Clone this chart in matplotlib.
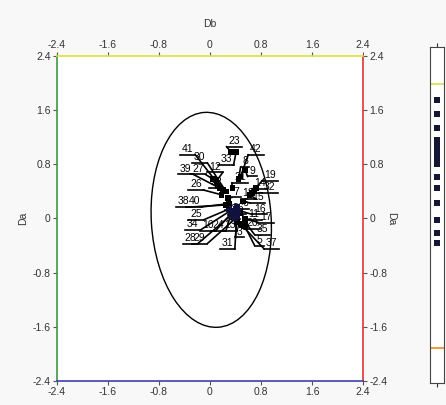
import matplotlib
matplotlib.use("Agg")
import matplotlib.pyplot as plt
from matplotlib.patches import Ellipse
import numpy as np

plt.rcParams['font.family'] = ['Liberation Sans', 'DejaVu Sans']

# ---- data ----
ids = list(range(1, 43))
db = [0.35, 0.30, 0.42, 0.40, 0.55, 0.42, 0.28, 0.45, 0.55, 0.32,
      0.48, 0.10, 0.38, 0.70, 0.52, 0.45, 0.55, 0.62, 0.72, 0.48,
      0.35, 0.12, 0.33, 0.34, 0.30, 0.18, 0.05, 0.36, 0.40, 0.25,
      0.42, 0.66, 0.41, 0.33, 0.55, 0.40, 0.50, 0.25, 0.15, 0.30,
      0.20, 0.48]
da = [0.12, 0.16, -0.05, 0.04, -0.12, 0.18, 0.30, 0.58, 0.72, 0.06,
      0.08, 0.55, 0.03, 0.40, 0.25, 0.12, 0.00, 0.35, 0.45, -0.08,
      0.45, 0.48, 0.98, 0.10, 0.14, 0.35, 0.58, 0.07, 0.00, 0.40,
      0.04, 0.38, 0.98, 0.12, -0.05, 0.15, -0.10, 0.20, 0.45, 0.22,
      0.42, 0.62]
# label anchor positions (layout)
lab_x = [0.30, 0.36, 0.47, 0.40, 0.77, 0.55, 0.41, 0.55, 0.66, -0.03,
         0.69, 0.08, 0.31, 0.78, 0.75, 0.78, 0.88, 0.60, 0.94, 0.66,
         0.47, 0.10, 0.38, 0.13, -0.22, -0.22, -0.19, -0.31, -0.16, -0.16,
         0.27, 0.94, 0.25, -0.27, 0.82, 0.44, 0.97, -0.42, -0.38, -0.25,
         -0.35, 0.72]
lab_y = [0.20, 0.12, -0.21, 0.06, -0.33, 0.21, 0.38, 0.83, 0.69, -0.11,
         0.05, 0.75, -0.11, 0.51, 0.30, 0.13, 0.01, 0.36, 0.63, -0.08,
         0.60, 0.52, 1.13, -0.11, 0.05, 0.49, 0.72, -0.30, -0.30, 0.89,
         -0.38, 0.45, 0.86, -0.10, -0.17, 0.14, -0.38, 0.24, 0.72, 0.24,
         1.01, 1.01]
# confidence ellipse
ell_center = (0.02, -0.02)
ell_width = 1.88
ell_height = 3.18
ell_angle = 4.0
# side strip values
strip_vals = [1.64, 1.44, 1.24, 1.07, 0.99, 0.90, 0.81, 0.73, 0.54, 0.39,
              0.17, -0.07, -0.26, -0.40]
strip_upper = 1.87
strip_lower = -1.90
ticks = [-2.4, -1.6, -0.8, 0, 0.8, 1.6, 2.4]
tick_labels = ['-2.4', '-1.6', '-0.8', '0', '0.8', '1.6', '2.4']

# ---- figure ----
fig = plt.figure(figsize=(4.46, 4.05), dpi=100)
fig.patch.set_facecolor('#f8f8f8')
ax = fig.add_axes([0.1278, 0.0593, 0.686, 0.8025])
ax.set_facecolor('white')
ax.set_xlim(-2.4, 2.4)
ax.set_ylim(-2.4, 2.4)
ax.set_xticks(ticks)
ax.set_yticks(ticks)
ax.set_xticklabels(tick_labels)
ax.set_yticklabels(tick_labels)
ax.tick_params(axis='both', which='both', direction='out', length=3, width=0.8,
               labelsize=7.5, labelcolor='#333333', color='#555555',
               top=True, right=True, labeltop=True, labelright=True, pad=1.5)
ax.spines['top'].set_color('#dde33a')
ax.spines['left'].set_color('#3c9a3c')
ax.spines['right'].set_color('#e03434')
ax.spines['bottom'].set_color('#3e3eb0')
for s in ax.spines.values():
    s.set_linewidth(1.2)
ax.xaxis.set_label_position('top')
ax.set_xlabel('Db', fontsize=7.5, color='#333333', labelpad=9)
ax.set_ylabel('Da', fontsize=7.5, color='#333333', labelpad=3)
fig.text(0.878, 0.46, 'Da', rotation=270, fontsize=7.5, color='#333333',
         ha='center', va='center')

ax.add_patch(Ellipse(ell_center, ell_width, ell_height, angle=ell_angle,
                     fill=False, edgecolor='black', linewidth=1.0))

# labels, underlines and leader lines
for i, (px, py, lx, ly) in enumerate(zip(db, da, lab_x, lab_y)):
    txt = str(ids[i])
    w = 0.1 * len(txt) + 0.04
    base = ly - 0.07
    ax.text(lx, base + 0.01, txt, fontsize=7.5, ha='center', va='bottom',
            color='black', zorder=4)
    ax.plot([lx - w / 2, lx + w / 2], [base, base], color='black', lw=1.2,
            zorder=3)
    ex = lx + w / 2 if px > lx else lx - w / 2
    ax.plot([ex, px], [base, py], color='black', lw=1.2, zorder=3)

cols = ['#111140' if (0.28 < x < 0.46 and -0.02 < y < 0.2) else 'black'
        for x, y in zip(db, da)]
ax.scatter(db, da, marker='s', s=16, c=cols, zorder=5, linewidths=0)

# side strip
ax2 = fig.add_axes([0.964, 0.054, 0.031, 0.83])
ax2.set_facecolor('white')
ax2.set_xlim(0, 1)
ax2.set_ylim(-2.4, 2.4)
ax2.set_yticks([])
ax2.set_xticks([0.5])
ax2.set_xticklabels([])
ax2.tick_params(axis='x', direction='out', length=3, width=0.8, top=True,
                bottom=True, color='#333333')
for s in ax2.spines.values():
    s.set_color('#444444')
    s.set_linewidth(0.8)
ax2.axhline(strip_upper, color='#dcdc50', lw=1.2)
ax2.axhline(strip_lower, color='#e8a040', lw=1.5)
ax2.scatter([0.5] * len(strip_vals), strip_vals, marker='s', s=16,
            c='#151535', linewidths=0, zorder=3)

fig.savefig('out.png', dpi=100, facecolor=fig.get_facecolor())
